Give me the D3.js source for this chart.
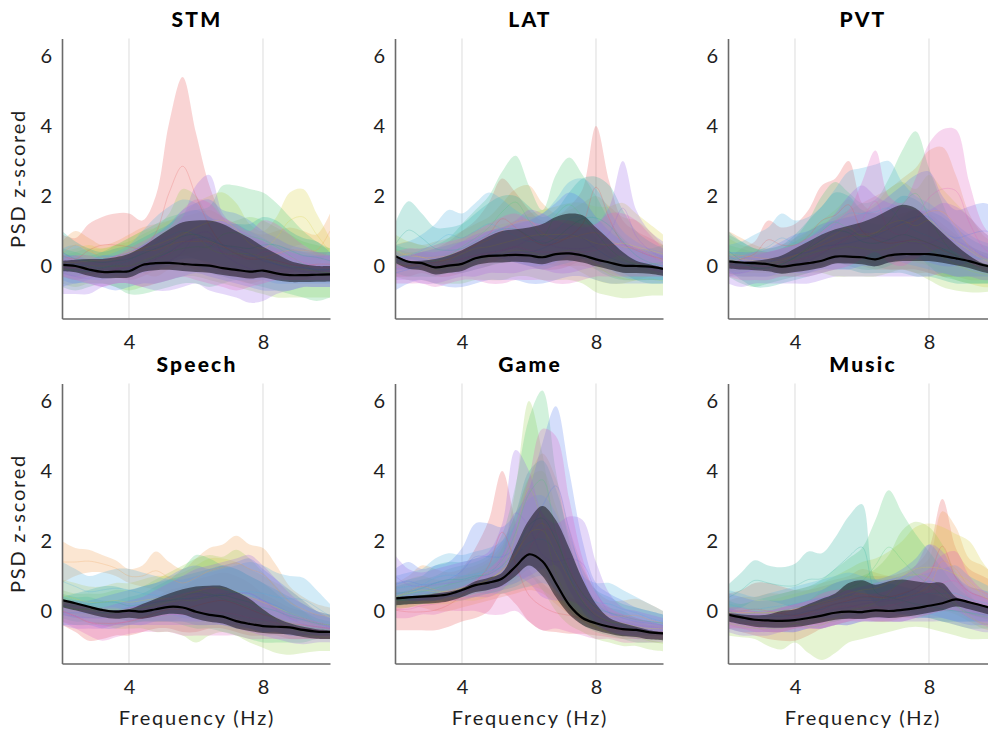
<!DOCTYPE html>
<html><head><meta charset="utf-8">
<script src="https://cdn.jsdelivr.net/npm/d3@7"></script>
<style>body{margin:0;background:#fff}svg{display:block}text{font-family:Lato,"Open Sans",sans-serif}</style>
</head><body><svg id="c" width="988" height="733"></svg>
<script>
// ---------- data ----------
const freqs=[2.0,2.4,2.8,3.2,3.6,4.0,4.4,4.8,5.2,5.6,6.0,6.4,6.8,7.2,7.6,8.0,8.4,8.8,9.2,9.6,10.0];
const panelTitles=["STM","LAT","PVT","Speech","Game","Music"];
const xTicks=[4,8];
const yTicks=[0,2,4,6];
const subjectColors=["#e85a5a","#f0a050","#d8d040","#9ad050","#50c878","#30b0a0","#50b0e0","#5a80f0","#9a6ae8","#e060c0"];

// STM
const stmMean=[0.03,0.0,-0.1,-0.17,-0.16,-0.15,0.03,0.08,0.09,0.06,0.03,0.01,-0.06,-0.11,-0.16,-0.13,-0.21,-0.26,-0.26,-0.25,-0.24];
const stmBandLo=[-0.15,-0.18,-0.28,-0.35,-0.34,-0.33,-0.17,-0.12,-0.11,-0.14,-0.17,-0.19,-0.26,-0.31,-0.36,-0.33,-0.41,-0.46,-0.46,-0.45,-0.44];
const stmBandHi=[0.15,0.18,0.2,0.2,0.25,0.35,0.55,0.8,1.05,1.25,1.3,1.3,1.2,1.0,0.8,0.55,0.35,0.15,0.05,0.0,0.0];
const stmSubjHi=[
[0.9,0.8,1.2,1.4,1.5,1.5,1.3,2.0,4.1,5.4,3.8,2.3,1.4,1.0,0.8,0.7,0.6,0.5,0.4,0.4,0.4],
[0.7,1.0,0.8,0.6,0.7,0.9,1.1,1.2,1.3,1.4,1.5,1.6,1.4,1.2,1.0,0.9,1.0,1.1,1.0,0.9,1.5],
[0.4,0.5,0.6,0.5,0.6,0.8,1.0,1.1,1.3,1.5,1.8,2.0,2.1,1.8,1.2,1.0,1.4,2.1,2.2,1.5,0.8],
[0.3,0.4,0.5,0.5,0.6,0.7,0.9,1.1,1.5,2.2,2.0,1.4,1.2,1.3,1.4,1.3,1.1,0.9,0.7,0.6,0.5],
[0.5,0.4,0.3,0.4,0.6,0.8,1.0,1.2,1.4,1.5,1.6,1.7,2.3,2.3,2.2,2.1,1.8,1.4,1.0,0.7,0.5],
[1.0,0.7,0.5,0.4,0.5,0.6,0.8,1.0,1.2,1.5,1.6,1.4,1.2,1.2,1.2,1.4,1.3,1.0,0.8,0.7,0.4],
[0.5,0.6,0.4,0.3,0.4,0.6,1.0,1.4,1.7,1.9,1.8,1.4,1.3,1.2,1.0,0.8,0.6,0.5,0.4,0.3,0.3],
[0.3,0.3,0.2,0.3,0.3,0.4,0.6,0.9,1.2,1.6,1.8,1.9,1.6,1.5,1.3,1.0,0.8,0.6,0.5,0.4,0.4],
[0.4,0.2,0.1,0.2,0.3,0.4,0.6,0.8,1.0,1.4,2.3,2.6,1.5,1.1,0.9,0.7,0.5,0.4,0.3,0.3,0.3],
[0.2,0.3,0.3,0.2,0.3,0.5,0.7,0.9,1.1,1.6,1.9,1.8,1.4,1.2,1.0,1.3,1.2,0.9,0.6,0.4,0.3]];
const stmSubjLo=[
[-0.3,-0.4,-0.3,-0.2,-0.3,-0.4,-0.3,-0.1,0.1,0.3,0.2,0.0,-0.2,-0.3,-0.4,-0.3,-0.3,-0.4,-0.4,-0.3,-0.3],
[0.0,0.2,0.1,-0.1,-0.2,-0.1,-0.2,-0.3,-0.1,0.0,-0.1,-0.2,-0.3,-0.4,-0.5,-0.4,-0.3,-0.2,-0.1,0.0,0.5],
[-0.2,-0.3,-0.3,-0.2,-0.2,-0.1,0.0,0.1,0.2,0.3,0.4,0.5,0.5,0.3,0.1,0.0,0.2,0.5,0.6,0.3,0.0],
[-0.5,-0.6,-0.5,-0.5,-0.6,-0.7,-0.6,-0.5,-0.4,-0.3,-0.3,-0.4,-0.5,-0.6,-0.7,-0.8,-0.9,-0.9,-0.9,-0.9,-0.9],
[-0.6,-0.7,-0.6,-0.5,-0.6,-0.8,-0.8,-0.7,-0.6,-0.5,-0.5,-0.6,-0.5,-0.4,-0.5,-0.6,-0.7,-0.8,-0.9,-1.0,-0.9],
[-0.2,-0.3,-0.2,-0.2,-0.2,-0.2,-0.1,0.0,0.1,0.2,0.2,0.1,0.0,-0.1,-0.2,-0.2,-0.1,-0.1,-0.2,-0.2,-0.1],
[-0.4,-0.5,-0.4,-0.4,-0.3,-0.3,-0.2,-0.1,0.0,0.1,0.0,-0.2,-0.3,-0.4,-0.4,-0.4,-0.5,-0.5,-0.5,-0.5,-0.5],
[-0.6,-0.5,-0.5,-0.6,-0.7,-0.6,-0.5,-0.5,-0.4,-0.3,-0.2,-0.3,-0.4,-0.5,-0.6,-0.7,-0.7,-0.7,-0.6,-0.6,-0.6],
[-0.8,-0.8,-0.8,-0.6,-0.5,-0.5,-0.6,-0.7,-0.7,-0.6,-0.5,-0.7,-0.8,-0.9,-1.05,-1.0,-0.8,-0.7,-0.6,-0.6,-0.6],
[-0.3,-0.4,-0.5,-0.6,-0.5,-0.5,-0.6,-0.5,-0.4,-0.3,-0.4,-0.5,-0.6,-0.7,-0.6,-0.5,-0.4,-0.4,-0.4,-0.4,-0.4]];

// LAT
const latMean=[0.29,0.12,0.08,-0.04,0.01,0.06,0.22,0.29,0.3,0.32,0.3,0.25,0.34,0.36,0.3,0.19,0.1,0.01,0.0,-0.02,-0.08];
const latBandLo=[0.09,-0.08,-0.12,-0.24,-0.19,-0.14,0.02,0.09,0.1,0.12,0.1,0.05,0.14,0.16,0.1,-0.01,-0.1,-0.19,-0.2,-0.22,-0.28];
const latBandHi=[0.3,0.15,0.15,0.2,0.3,0.45,0.65,0.85,1.0,1.05,1.1,1.2,1.4,1.5,1.45,1.1,0.75,0.4,0.15,0.05,-0.05];
const latSubjHi=[
[0.4,0.3,0.4,0.5,0.7,1.0,1.3,1.8,2.5,2.1,1.6,1.3,1.4,1.7,2.2,4.0,2.4,1.3,1.0,0.8,0.6],
[0.6,0.7,0.6,0.7,0.8,1.0,1.2,1.4,1.8,2.2,2.3,1.8,1.5,1.6,1.8,2.0,1.7,1.4,1.3,1.0,0.6],
[0.9,0.7,0.6,0.5,0.6,0.8,1.0,1.1,1.2,1.3,1.5,1.6,1.7,1.8,1.8,1.7,1.7,1.8,1.5,1.2,0.9],
[0.5,0.4,0.4,0.3,0.4,0.5,0.7,0.9,1.1,1.2,1.1,1.0,1.1,1.3,1.2,0.8,0.4,0.2,0.1,0.1,0.0],
[0.6,0.5,0.5,0.6,0.8,1.2,1.6,2.0,2.7,3.15,2.3,1.6,2.6,3.1,2.6,2.0,1.3,0.8,0.5,0.5,0.6],
[1.2,1.85,1.5,1.1,1.1,1.2,1.5,1.8,2.0,2.0,1.7,1.4,1.6,2.1,2.5,2.55,2.3,1.6,1.0,0.7,0.5],
[0.6,0.7,0.9,1.2,1.6,1.5,1.8,2.1,1.9,1.6,1.4,1.5,1.9,2.4,2.5,2.2,1.6,1.0,0.7,0.5,0.4],
[0.3,0.3,0.4,0.5,0.6,0.7,0.8,1.0,1.1,1.2,1.3,1.5,1.8,2.1,1.9,1.4,1.0,0.7,0.5,0.4,0.3],
[0.2,0.3,0.4,0.4,0.5,0.7,0.9,1.0,1.1,1.3,1.6,1.5,1.3,1.2,1.1,1.2,1.7,3.0,1.6,1.0,0.7],
[0.4,0.5,0.5,0.6,0.7,0.8,1.0,1.2,1.4,1.5,1.3,1.2,1.3,1.3,1.2,1.2,1.5,1.5,1.3,0.9,0.5]];
const latSubjLo=[
[-0.3,-0.3,-0.2,-0.3,-0.3,-0.2,-0.1,0.0,0.2,0.1,0.0,-0.1,-0.1,0.0,0.2,0.5,0.3,0.0,-0.1,-0.2,-0.2],
[-0.1,0.0,-0.1,-0.2,-0.2,-0.1,0.0,0.1,0.2,0.3,0.3,0.1,0.0,0.0,0.0,-0.1,-0.2,-0.3,-0.3,-0.3,-0.3],
[0.0,-0.1,-0.1,-0.2,-0.2,-0.1,0.0,0.0,0.1,0.2,0.2,0.2,0.1,0.0,-0.2,-0.4,-0.5,-0.5,-0.4,-0.3,-0.2],
[-0.3,-0.4,-0.4,-0.5,-0.5,-0.5,-0.4,-0.4,-0.4,-0.3,-0.3,-0.4,-0.4,-0.4,-0.5,-0.75,-0.85,-0.92,-0.9,-0.85,-0.85],
[-0.2,-0.3,-0.3,-0.3,-0.2,-0.1,0.0,0.2,0.4,0.5,0.3,0.1,0.3,0.4,0.2,-0.1,-0.3,-0.4,-0.4,-0.4,-0.4],
[0.0,0.2,0.1,-0.1,-0.2,-0.2,-0.1,0.0,0.1,0.1,0.0,-0.1,0.0,0.1,0.2,0.2,0.0,-0.2,-0.4,-0.5,-0.5],
[-0.1,-0.1,0.0,0.1,0.2,0.1,0.2,0.3,0.2,0.1,0.0,0.0,0.1,0.3,0.3,0.1,-0.1,-0.3,-0.4,-0.4,-0.4],
[-0.7,-0.5,-0.4,-0.5,-0.6,-0.6,-0.5,-0.4,-0.4,-0.4,-0.5,-0.5,-0.4,-0.3,-0.3,-0.4,-0.5,-0.5,-0.5,-0.5,-0.5],
[-0.4,-0.4,-0.5,-0.5,-0.4,-0.3,-0.3,-0.2,-0.2,-0.2,-0.1,-0.1,-0.2,-0.2,-0.1,0.0,0.2,0.3,0.1,-0.1,-0.2],
[-0.5,-0.5,-0.5,-0.6,-0.5,-0.4,-0.4,-0.5,-0.5,-0.4,-0.4,-0.4,-0.5,-0.5,-0.4,-0.3,-0.3,-0.3,-0.3,-0.3,-0.3]];

// PVT
const pvtMean=[0.13,0.1,0.08,0.05,-0.02,0.03,0.08,0.15,0.27,0.27,0.25,0.19,0.3,0.34,0.34,0.34,0.29,0.22,0.14,0.03,-0.05];
const pvtBandLo=[-0.07,-0.1,-0.12,-0.15,-0.22,-0.17,-0.12,-0.05,0.07,0.07,0.05,-0.01,0.1,0.14,0.14,0.14,0.09,0.02,-0.06,-0.17,-0.25];
const pvtBandHi=[0.15,0.12,0.15,0.2,0.3,0.5,0.7,0.9,1.05,1.15,1.25,1.4,1.6,1.75,1.65,1.3,0.95,0.6,0.3,0.08,0.0];
const pvtSubjHi=[
[0.2,0.5,0.7,1.3,1.1,1.2,1.6,2.3,2.5,3.0,1.8,1.5,1.4,1.5,1.6,1.5,1.2,0.9,0.6,0.4,0.3],
[1.0,0.8,0.6,0.5,0.6,0.8,1.0,1.2,1.4,1.6,1.8,2.0,2.2,2.5,2.8,3.3,3.4,2.6,1.5,0.9,0.6],
[0.8,0.6,0.5,0.4,0.5,0.7,1.0,1.3,1.6,1.9,1.6,1.8,2.2,2.4,2.2,2.6,2.2,1.8,1.4,1.0,0.7],
[0.6,0.5,0.4,0.4,0.5,0.7,0.9,1.1,1.3,1.4,1.3,1.2,1.2,1.4,1.6,1.4,1.1,0.8,0.5,0.3,0.2],
[0.9,0.7,0.5,0.4,0.5,0.8,1.3,2.0,2.4,2.1,1.8,1.9,2.5,3.3,3.85,2.8,1.8,1.0,0.6,0.4,0.3],
[1.0,0.7,0.5,0.5,0.6,0.9,1.3,1.7,2.1,2.0,1.6,1.5,1.7,2.0,1.9,1.6,1.4,1.1,0.8,0.6,0.5],
[0.6,0.7,0.9,1.1,1.5,1.3,1.4,1.7,2.2,2.7,2.8,2.9,3.0,2.4,2.0,1.8,1.5,1.2,0.9,0.7,0.6],
[0.4,0.4,0.4,0.5,0.7,0.9,1.0,1.2,1.3,1.4,1.5,1.7,2.0,2.3,2.6,2.7,2.0,1.6,1.7,1.8,1.7],
[0.1,0.2,0.3,0.4,0.5,0.6,0.8,1.1,1.5,2.0,2.3,2.0,1.8,1.7,1.6,1.6,1.8,1.7,1.4,1.0,0.7],
[0.3,0.3,0.4,0.4,0.5,0.6,0.8,1.0,1.3,1.6,2.4,3.3,2.0,1.8,2.5,3.5,3.9,3.9,2.4,1.2,0.7]];
const pvtSubjLo=[
[-0.2,-0.1,0.0,0.2,0.1,0.0,0.1,0.3,0.4,0.5,0.2,0.0,-0.1,-0.1,-0.1,-0.2,-0.3,-0.3,-0.3,-0.3,-0.3],
[-0.3,-0.2,-0.1,-0.1,-0.2,-0.2,-0.1,0.0,0.1,0.1,0.0,-0.1,-0.1,-0.1,-0.2,-0.2,-0.3,-0.3,-0.4,-0.4,-0.4],
[-0.1,-0.2,-0.2,-0.2,-0.2,-0.1,0.0,0.1,0.2,0.3,0.1,0.1,0.2,0.2,0.1,0.0,-0.2,-0.4,-0.5,-0.6,-0.6],
[-0.2,-0.3,-0.3,-0.3,-0.3,-0.3,-0.2,-0.2,-0.3,-0.3,-0.3,-0.3,-0.2,-0.1,-0.2,-0.4,-0.6,-0.7,-0.75,-0.75,-0.7],
[-0.3,-0.5,-0.6,-0.5,-0.4,-0.3,-0.2,0.0,0.1,0.0,-0.1,-0.1,0.0,0.2,0.3,0.0,-0.3,-0.4,-0.5,-0.5,-0.5],
[-0.1,-0.4,-0.6,-0.6,-0.5,-0.4,-0.3,-0.2,-0.1,-0.1,-0.2,-0.2,-0.2,-0.2,-0.3,-0.3,-0.4,-0.5,-0.5,-0.5,-0.5],
[-0.2,-0.2,-0.1,0.0,0.1,0.0,0.0,0.1,0.2,0.3,0.2,0.2,0.3,0.1,0.0,-0.1,-0.2,-0.3,-0.3,-0.3,-0.3],
[-0.3,-0.3,-0.3,-0.3,-0.2,-0.2,-0.2,-0.1,-0.1,-0.1,0.0,0.0,0.1,0.2,0.2,0.1,0.0,0.0,0.1,0.2,0.2],
[-0.5,-0.6,-0.5,-0.5,-0.5,-0.5,-0.5,-0.4,-0.3,-0.3,-0.3,-0.3,-0.3,-0.3,-0.3,-0.3,-0.2,-0.3,-0.3,-0.4,-0.4],
[-0.3,-0.4,-0.4,-0.4,-0.3,-0.3,-0.3,-0.2,-0.1,0.0,0.2,0.4,0.1,0.0,0.2,0.4,0.5,0.4,0.1,-0.1,-0.2]];

// Speech
const speechMean=[0.31,0.22,0.12,0.03,-0.02,0.01,-0.02,0.05,0.12,0.1,-0.02,-0.11,-0.16,-0.29,-0.37,-0.43,-0.45,-0.47,-0.54,-0.59,-0.6];
const speechBandLo=[0.11,0.02,-0.08,-0.17,-0.22,-0.19,-0.22,-0.15,-0.08,-0.1,-0.22,-0.31,-0.36,-0.49,-0.57,-0.63,-0.65,-0.67,-0.74,-0.79,-0.8];
const speechBandHi=[0.31,0.22,0.12,0.05,0.02,0.05,0.2,0.35,0.5,0.62,0.7,0.72,0.71,0.55,0.35,0.05,-0.2,-0.35,-0.45,-0.52,-0.55];
const speechSubjHi=[
[0.4,0.3,0.2,0.1,0.0,0.1,0.2,0.4,0.6,0.7,0.9,1.0,1.1,1.0,0.8,0.5,0.3,0.1,0.0,-0.1,-0.2],
[2.0,1.8,1.75,1.6,1.45,1.2,1.3,1.7,1.4,1.2,1.5,1.8,1.9,2.15,1.9,1.8,1.3,0.7,0.4,0.2,0.1],
[0.9,0.8,0.7,0.7,0.8,0.8,0.9,1.0,1.0,1.1,1.3,1.5,1.5,1.4,1.2,1.0,0.8,0.6,0.3,0.0,-0.1],
[0.6,0.5,0.5,0.5,0.6,0.6,0.7,0.9,1.1,1.3,1.5,1.6,1.55,1.75,1.5,1.1,0.7,0.3,0.0,-0.3,-0.4],
[0.5,0.4,0.4,0.3,0.3,0.4,0.5,0.7,0.9,1.2,1.6,1.5,1.3,1.2,1.0,0.8,0.5,0.2,0.0,-0.2,-0.3],
[0.4,0.5,0.6,0.7,0.7,0.6,0.7,0.8,0.9,1.0,1.1,1.2,1.3,1.2,1.0,0.8,0.6,0.4,0.2,0.0,-0.1],
[1.4,1.2,1.0,1.1,1.2,1.2,1.1,1.0,0.9,0.9,1.0,1.1,1.2,1.3,1.4,1.3,1.1,1.0,0.95,0.6,0.2],
[0.3,0.3,0.3,0.4,0.5,0.6,0.7,0.8,1.0,1.2,1.3,1.2,1.3,1.4,1.5,1.2,0.9,0.6,0.3,0.0,-0.2],
[0.2,0.2,0.1,0.1,0.2,0.3,0.4,0.6,0.8,1.0,1.2,1.3,1.4,1.5,1.6,1.3,0.9,0.5,0.2,0.0,-0.1],
[0.3,0.2,0.1,0.0,0.0,0.1,0.2,0.3,0.4,0.5,0.6,0.7,0.6,0.5,0.4,0.3,0.1,-0.1,-0.2,-0.3,-0.4]];
const speechSubjLo=[
[-0.4,-0.6,-0.85,-0.8,-0.7,-0.7,-0.6,-0.5,-0.5,-0.6,-0.6,-0.5,-0.5,-0.6,-0.7,-0.7,-0.7,-0.8,-0.8,-0.8,-0.8],
[0.8,1.0,1.1,1.1,1.0,0.8,0.7,0.6,0.5,0.4,0.4,0.5,0.6,0.6,0.5,0.3,0.0,-0.2,-0.3,-0.4,-0.4],
[0.0,-0.1,-0.2,-0.2,-0.2,-0.3,-0.3,-0.3,-0.3,-0.2,-0.2,-0.2,-0.2,-0.3,-0.4,-0.5,-0.6,-0.7,-0.7,-0.7,-0.7],
[-0.3,-0.4,-0.4,-0.4,-0.5,-0.5,-0.5,-0.6,-0.6,-0.7,-0.9,-0.7,-0.6,-0.7,-0.9,-1.05,-1.2,-1.25,-1.2,-1.15,-1.15],
[-0.2,-0.3,-0.3,-0.4,-0.4,-0.4,-0.3,-0.3,-0.3,-0.4,-0.5,-0.5,-0.6,-0.7,-0.8,-0.9,-0.9,-0.9,-0.9,-0.8,-0.8],
[-0.1,-0.2,-0.2,-0.2,-0.2,-0.3,-0.3,-0.3,-0.3,-0.3,-0.4,-0.4,-0.4,-0.5,-0.5,-0.6,-0.6,-0.7,-0.7,-0.7,-0.7],
[0.3,0.2,0.1,0.1,0.1,0.0,-0.1,-0.1,-0.1,-0.2,-0.2,-0.2,-0.2,-0.2,-0.3,-0.3,-0.3,-0.3,-0.3,-0.4,-0.5],
[-0.4,-0.4,-0.4,-0.5,-0.5,-0.4,-0.4,-0.3,-0.3,-0.3,-0.3,-0.3,-0.4,-0.4,-0.5,-0.6,-0.6,-0.7,-0.7,-0.7,-0.7],
[-0.4,-0.5,-0.5,-0.5,-0.4,-0.4,-0.4,-0.4,-0.4,-0.4,-0.4,-0.4,-0.4,-0.5,-0.6,-0.7,-0.8,-0.9,-0.95,-0.9,-0.9],
[-0.3,-0.5,-0.7,-0.85,-0.75,-0.65,-0.6,-0.6,-0.6,-0.7,-0.7,-0.7,-0.7,-0.7,-0.8,-0.8,-0.8,-0.8,-0.8,-0.8,-0.8]];

// Game
const gameMean=[0.36,0.39,0.41,0.43,0.48,0.6,0.74,0.81,0.93,1.27,1.62,1.42,0.8,0.17,-0.2,-0.35,-0.45,-0.52,-0.54,-0.61,-0.64];
const gameBandLo=[0.16,0.19,0.21,0.23,0.28,0.4,0.54,0.61,0.73,1.0,1.3,1.0,0.4,-0.1,-0.4,-0.55,-0.65,-0.72,-0.74,-0.81,-0.84];
const gameBandHi=[0.4,0.42,0.45,0.5,0.55,0.65,0.85,0.95,1.1,1.85,2.6,3.0,2.6,1.8,0.9,0.2,-0.2,-0.35,-0.45,-0.55,-0.6];
const gameSubjHi=[
[0.6,0.5,0.5,0.6,0.8,1.2,1.8,2.6,4.0,2.5,1.2,0.8,0.5,0.4,0.2,0.0,-0.2,-0.3,-0.3,-0.4,-0.4],
[0.8,1.0,1.3,1.2,1.1,1.2,1.3,1.5,1.9,2.8,3.8,4.5,3.8,2.4,1.3,0.6,0.3,0.3,0.35,0.2,0.0],
[0.7,0.9,1.0,0.9,0.9,1.0,1.2,1.4,1.8,2.6,3.8,4.0,3.0,1.8,0.9,0.3,0.0,-0.1,-0.2,-0.3,-0.3],
[0.5,0.6,0.7,0.8,0.9,1.0,1.1,1.3,1.8,3.5,6.0,4.5,2.2,1.0,0.3,-0.1,-0.3,-0.4,-0.5,-0.6,-0.7],
[0.7,0.8,0.9,1.0,1.2,1.3,1.4,1.6,2.2,3.6,5.5,6.3,4.0,2.0,0.9,0.3,0.1,0.0,-0.2,-0.3,-0.4],
[0.8,0.9,1.0,1.3,1.4,1.4,1.5,1.6,2.0,2.8,4.0,4.3,3.5,2.2,1.2,0.6,0.4,0.2,0.1,0.0,-0.1],
[1.0,1.1,1.2,1.5,1.65,1.6,1.7,1.8,2.0,2.5,3.2,3.3,2.8,1.8,1.0,0.8,0.8,0.6,0.4,0.2,0.0],
[1.2,1.4,1.2,1.3,1.4,1.8,2.5,2.5,2.4,2.8,3.5,4.8,5.85,4.0,2.0,0.8,0.5,0.3,0.1,0.0,-0.1],
[1.6,1.2,1.1,1.2,1.3,1.4,1.5,1.7,2.5,4.6,4.0,2.8,2.5,2.7,2.6,1.4,0.5,0.1,0.0,-0.1,-0.2],
[0.3,0.3,0.4,0.5,0.6,0.7,0.9,1.2,1.6,2.5,3.8,5.2,5.0,3.2,1.5,0.5,0.1,-0.1,-0.2,-0.3,-0.4]];
const gameSubjLo=[
[-0.55,-0.55,-0.55,-0.55,-0.45,-0.3,-0.2,0.0,0.5,0.2,-0.3,-0.55,-0.6,-0.65,-0.65,-0.7,-0.75,-0.8,-0.8,-0.8,-0.8],
[0.0,0.1,0.1,0.0,0.0,0.1,0.2,0.3,0.4,0.5,0.6,0.5,0.2,-0.1,-0.3,-0.5,-0.6,-0.6,-0.6,-0.7,-0.7],
[0.1,0.1,0.2,0.2,0.2,0.3,0.3,0.4,0.5,0.6,0.7,0.6,0.3,0.0,-0.3,-0.5,-0.6,-0.6,-0.7,-0.7,-0.7],
[0.1,0.1,0.2,0.2,0.3,0.3,0.4,0.5,0.6,0.8,1.0,0.6,0.0,-0.4,-0.6,-0.8,-0.9,-1.0,-1.0,-1.1,-1.15],
[0.1,0.2,0.2,0.3,0.3,0.4,0.5,0.6,0.7,0.9,1.2,1.2,0.5,0.0,-0.4,-0.6,-0.7,-0.8,-0.9,-0.9,-0.9],
[0.2,0.2,0.3,0.3,0.4,0.4,0.5,0.5,0.6,0.7,0.9,1.0,0.6,0.1,-0.2,-0.4,-0.5,-0.5,-0.6,-0.6,-0.6],
[0.3,0.3,0.3,0.4,0.4,0.4,0.4,0.5,0.5,0.6,0.7,0.8,0.6,0.2,-0.1,-0.3,-0.4,-0.5,-0.5,-0.6,-0.6],
[0.3,0.3,0.3,0.3,0.4,0.5,0.6,0.6,0.7,0.8,1.0,1.2,1.3,0.6,0.0,-0.4,-0.6,-0.7,-0.7,-0.7,-0.7],
[0.4,0.3,0.3,0.3,0.3,0.3,0.4,0.4,0.6,1.0,0.8,0.4,0.3,0.3,0.1,-0.3,-0.6,-0.7,-0.8,-0.8,-0.8],
[-0.2,-0.2,-0.1,-0.1,0.0,0.0,0.0,-0.1,-0.1,0.0,-0.3,-0.55,-0.5,-0.6,-0.7,-0.8,-0.8,-0.9,-0.9,-0.9,-0.9]];

// Music
const musicMean=[-0.1,-0.18,-0.25,-0.27,-0.28,-0.26,-0.2,-0.13,-0.05,-0.02,-0.03,0.02,0.0,0.03,0.08,0.15,0.22,0.33,0.25,0.15,0.05];
const musicBandLo=[-0.3,-0.38,-0.45,-0.47,-0.48,-0.46,-0.4,-0.33,-0.25,-0.22,-0.23,-0.18,-0.2,-0.17,-0.12,-0.05,0.02,0.13,0.05,-0.05,-0.15];
const musicBandHi=[-0.05,-0.1,-0.12,-0.1,0.0,0.05,0.2,0.35,0.5,0.8,0.88,0.75,0.85,0.9,0.85,0.8,0.8,0.4,0.27,0.17,0.07];
const musicSubjHi=[
[0.5,0.6,0.8,0.8,0.7,0.6,0.6,0.7,0.8,0.9,1.0,1.0,1.0,1.1,1.3,1.8,3.2,1.8,1.2,1.0,0.8],
[0.3,0.4,0.4,0.5,0.5,0.6,0.7,0.8,0.9,1.0,1.2,1.1,1.0,1.0,1.2,1.5,2.85,2.4,1.5,1.3,1.0],
[0.2,0.2,0.3,0.3,0.4,0.5,0.6,0.8,1.0,1.2,1.4,1.5,1.7,2.0,2.4,2.5,2.4,2.2,2.0,1.4,0.9],
[0.0,-0.1,-0.2,0.0,0.1,0.2,0.3,0.6,0.8,0.9,1.0,1.2,1.6,2.3,2.55,2.4,1.9,1.1,0.5,0.1,0.0],
[0.3,0.2,0.3,0.4,0.5,0.6,0.7,0.9,1.2,1.5,1.8,2.6,3.45,2.8,2.2,1.7,1.2,0.7,0.4,0.2,0.1],
[0.75,1.1,1.45,1.3,1.25,1.35,1.7,1.65,2.1,2.7,3.05,0.9,0.8,0.7,0.6,0.5,0.4,0.3,0.2,0.1,0.0],
[0.6,0.5,0.4,0.5,0.6,0.7,0.8,0.9,1.0,1.1,1.0,0.9,0.9,1.0,1.0,1.1,1.2,1.3,1.0,0.8,0.6],
[0.5,0.4,0.3,0.3,0.3,0.4,0.5,0.6,0.8,0.9,0.9,0.9,1.0,1.2,1.5,1.9,1.5,1.0,0.7,0.6,0.5],
[0.1,0.0,0.0,0.0,0.1,0.2,0.3,0.4,0.5,0.6,0.7,0.8,0.9,1.0,1.3,1.9,1.7,1.0,0.6,0.4,0.3],
[0.1,0.1,0.0,0.0,0.1,0.2,0.3,0.5,0.6,0.6,0.5,0.5,0.6,0.8,1.0,1.2,1.6,1.7,1.0,0.6,0.4]];
const musicSubjLo=[
[-0.5,-0.6,-0.7,-0.8,-0.85,-0.85,-0.7,-0.5,-0.4,-0.3,-0.2,-0.2,-0.2,-0.1,0.0,0.2,0.5,0.1,-0.1,-0.2,-0.3],
[-0.4,-0.5,-0.5,-0.6,-0.6,-0.5,-0.4,-0.4,-0.3,-0.2,-0.2,-0.3,-0.3,-0.2,-0.2,-0.1,0.0,0.0,-0.1,-0.2,-0.3],
[-0.3,-0.3,-0.4,-0.4,-0.4,-0.4,-0.3,-0.3,-0.3,-0.2,-0.2,-0.2,-0.1,0.0,0.0,0.0,0.0,-0.1,-0.3,-0.5,-0.6],
[-0.7,-0.75,-0.8,-1.0,-1.1,-0.9,-1.2,-1.4,-1.2,-0.9,-0.8,-0.7,-0.6,-0.5,-0.45,-0.5,-0.6,-0.7,-0.8,-0.8,-0.8],
[-0.3,-0.4,-0.4,-0.5,-0.5,-0.4,-0.4,-0.3,-0.3,-0.2,-0.1,0.0,0.2,0.1,-0.1,-0.2,-0.3,-0.4,-0.5,-0.5,-0.5],
[0.0,0.1,0.3,0.3,0.2,0.1,0.1,0.2,0.3,0.4,0.6,0.2,0.0,-0.1,-0.2,-0.2,-0.3,-0.3,-0.3,-0.3,-0.3],
[-0.2,-0.3,-0.3,-0.3,-0.3,-0.3,-0.2,-0.2,-0.2,-0.2,-0.2,-0.2,-0.2,-0.1,-0.1,-0.1,-0.2,-0.3,-0.3,-0.3,-0.3],
[-0.5,-0.6,-0.6,-0.6,-0.6,-0.6,-0.5,-0.5,-0.4,-0.4,-0.3,-0.3,-0.3,-0.3,-0.2,-0.2,-0.2,-0.3,-0.4,-0.4,-0.4],
[-0.6,-0.7,-0.7,-0.7,-0.6,-0.6,-0.5,-0.5,-0.4,-0.4,-0.3,-0.3,-0.3,-0.3,-0.3,-0.3,-0.3,-0.4,-0.5,-0.6,-0.6],
[-0.5,-0.5,-0.6,-0.6,-0.6,-0.5,-0.5,-0.5,-0.4,-0.3,-0.3,-0.3,-0.3,-0.3,-0.2,-0.1,0.0,0.0,-0.2,-0.4,-0.5]];

// ---------- assemble ----------
const panels=[
 {title:panelTitles[0],mean:stmMean,bandLo:stmBandLo,bandHi:stmBandHi,subjLo:stmSubjLo,subjHi:stmSubjHi},
 {title:panelTitles[1],mean:latMean,bandLo:latBandLo,bandHi:latBandHi,subjLo:latSubjLo,subjHi:latSubjHi},
 {title:panelTitles[2],mean:pvtMean,bandLo:pvtBandLo,bandHi:pvtBandHi,subjLo:pvtSubjLo,subjHi:pvtSubjHi},
 {title:panelTitles[3],mean:speechMean,bandLo:speechBandLo,bandHi:speechBandHi,subjLo:speechSubjLo,subjHi:speechSubjHi},
 {title:panelTitles[4],mean:gameMean,bandLo:gameBandLo,bandHi:gameBandHi,subjLo:gameSubjLo,subjHi:gameSubjHi},
 {title:panelTitles[5],mean:musicMean,bandLo:musicBandLo,bandHi:musicBandHi,subjLo:musicSubjLo,subjHi:musicSubjHi}
];

const svg=d3.select("#c");
const colLeft=[62,395,728], plotW=268;
const rowTop=[38.5,383.5], plotH=280;
const axisColor="#6a6a6a";
const textColor="#1e1e1e";
const curve=d3.curveCatmullRom.alpha(0.5);

panels.forEach((p,pi)=>{
  const col=pi%3,row=Math.floor(pi/3);
  const L=colLeft[col],T=rowTop[row];
  const x=d3.scaleLinear().domain([2,10]).range([L,L+plotW]);
  const y=d3.scaleLinear().domain([-1.5,6.5]).range([T+plotH,T]);
  const g=svg.append("g");
  const cid="clip"+pi;
  g.append("clipPath").attr("id",cid).append("rect")
    .attr("x",L).attr("y",T).attr("width",plotW).attr("height",plotH);

  // grid
  g.selectAll(".grid").data(xTicks).join("line")
    .attr("x1",d=>x(d)).attr("x2",d=>x(d)).attr("y1",T).attr("y2",T+plotH)
    .attr("stroke","#e2e2e2").attr("stroke-width",1.2);

  const plot=g.append("g").attr("clip-path",`url(#${cid})`);

  const area=d3.area().curve(curve).x(d=>x(d.f)).y0(d=>y(d.lo)).y1(d=>y(d.hi))
     .defined(d=>d.lo!=null&&d.hi!=null);
  const line=d3.line().curve(curve).x(d=>x(d.f)).y(d=>y(d.v)).defined(d=>d.v!=null);

  p.subjHi.forEach((hi,si)=>{
    const lo=p.subjLo[si];
    const pts=freqs.map((f,i)=>({f,lo:lo[i],hi:hi[i]}));
    plot.append("path").attr("d",area(pts))
      .attr("fill",subjectColors[si%subjectColors.length]).attr("fill-opacity",0.26).attr("stroke","none");
  });
  p.subjHi.forEach((hi,si)=>{
    const lo=p.subjLo[si];
    const pts=freqs.map((f,i)=>({f,v:(lo[i]+hi[i])/2}));
    plot.append("path").attr("d",line(pts)).attr("fill","none")
      .attr("stroke",subjectColors[si%subjectColors.length]).attr("stroke-opacity",0.3).attr("stroke-width",0.8);
  });

  // dark group band
  const bpts=freqs.map((f,i)=>({f,lo:p.bandLo[i],hi:p.bandHi[i]}));
  plot.append("path").attr("d",area(bpts)).attr("fill","#16141a").attr("fill-opacity",0.55);
  // mean line
  const mpts=freqs.map((f,i)=>({f,v:p.mean[i]}));
  plot.append("path").attr("d",line(mpts)).attr("fill","none").attr("stroke","#000").attr("stroke-width",2.2);

  // axes
  const ya=g.append("g").attr("transform",`translate(${L},0)`)
    .call(d3.axisLeft(y).tickValues(yTicks).tickSize(0).tickSizeOuter(0).tickPadding(10).tickFormat(d3.format("d")));
  const xa=g.append("g").attr("transform",`translate(0,${T+plotH})`)
    .call(d3.axisBottom(x).tickValues(xTicks).tickSize(0).tickSizeOuter(0).tickPadding(16).tickFormat(d3.format("d")));
  [ya,xa].forEach(a=>{
    a.select(".domain").attr("stroke",axisColor).attr("stroke-width",1.6);
    a.selectAll("text").attr("font-size",20).attr("fill",textColor).attr("font-family","Lato, sans-serif");
  });

  // title
  g.append("text").attr("x",L+plotW/2+1).attr("y",T-11.5).attr("text-anchor","middle")
    .attr("font-size",21).attr("font-weight",900).attr("letter-spacing",2.2).attr("fill","#000").text(p.title);

  if(col===0){
    g.append("text").attr("transform",`translate(25,${T+plotH/2}) rotate(-90)`)
      .attr("text-anchor","middle").attr("font-size",20).attr("letter-spacing",1.8).attr("fill",textColor).text("PSD z-scored");
  }
  if(row===1){
    g.append("text").attr("x",L+plotW/2+1).attr("y",725).attr("text-anchor","middle")
      .attr("font-size",20).attr("letter-spacing",1.8).attr("fill",textColor).text("Frequency (Hz)");
  }
});
</script></body></html>
